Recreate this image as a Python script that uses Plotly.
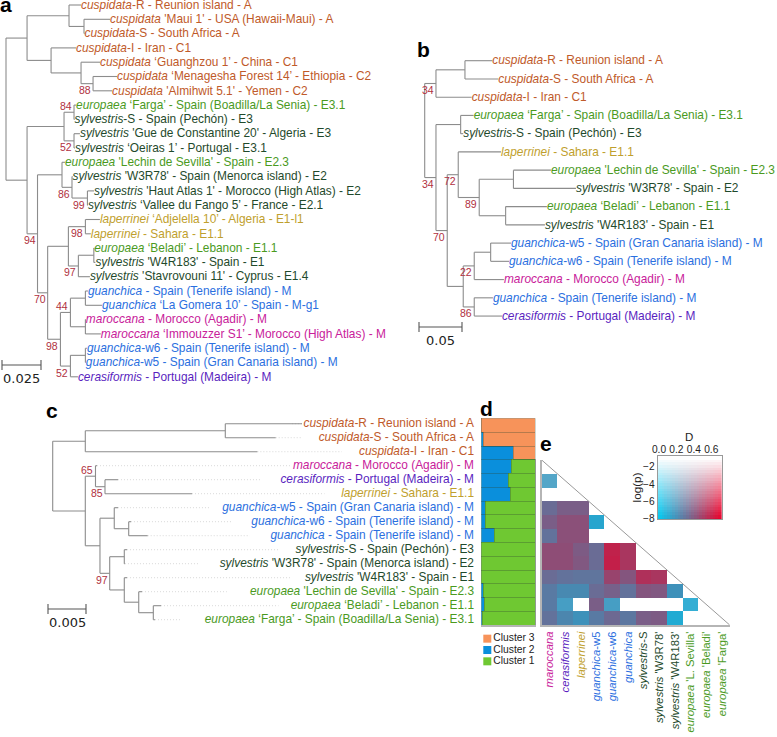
#!/usr/bin/python3
"""
File:       plot.py
Desc:       Olive plastid trees (a, b, c), cluster bars (d) and D / log(p) triangle (e)
"""

import re

import numpy as np
import plotly.graph_objects as go

W, H = 777, 737
FONT = "Liberation Sans"

# Trees, branch lengths. "^" puts the support value above the node
tree_a = """((((cR:.0077,(cMaui:.0167,cS:.0003):.0096):.0269,(cI:.0160,(cGuang:.0122,
(cMena:.0154,cAlmi:.0122)88:.0077):.0192):.0154):.0135),
((((eFarga:.0013,sS:.0003)84^:.0064,(sGue:.0038,sOei:.0006)52:.0064):.0237,
((eLech:.0019,(sW3m:.0003,(sHaut:.0042,sVall:.0003)99:.0099)86:.0064):.0157,
(((lAdj:.0093,lSah:.0035)98:.0109,((eBel:.0002,sW4:.0010):.0099,sStav:.0074)97:.0064):.0133,
(((gT:.0016,gGom:.0106):.0096,(mA:.0003,mImm:.0099):.0096)44^:.0064,
((gW6:.0010,gW5:.0003):.0096,cer:.0048)52:.0064)98:.0082)70:.0065)94:.0067):.0135));"""

tree_b = """(((cR:.0318,cS:.0387):.0337,cI:.0415)34:.0131,
((eFarga:.0151,sS:.0030):.0287,
((lSah:.0497,((eLech:.0436,sW3:.0727):.0398,(eBel:.0480,sW4:.0457):.0307)89:.0244)72:.0128,
(((gW5:.0236,gW6:.0213):.0191,mA:.0345)22:.0128,(gT:.0217,cer:.0322)86:.0128):.0186)70:.0131)34:.0131);"""

tree_c = """(((cR:.01009,cS:.00663):.01842,cI:.02264):.00429,
((mA:.0002,(cer:.00171,lSah:.01145)85:.00125)65^:.00134,
((gW5:.00049,(gW6:.0003,gT:.0025):.0019):.00188,
((sS:.00036,sW3m:.00009):.00192,
(sW4:.00036,(eLech:.00043,(eBel:.00101,eFarga:.00022):.00192):.0019):.00192)97:.00128):.00193):.00429);"""

# Leaf names: species, then the plain part
leaves = {
    "cR": ("cuspidata", "-R - Reunion island - A"),
    "cMaui": ("cuspidata", " 'Maui 1' - USA (Hawaii-Maui) - A"),
    "cS": ("cuspidata", "-S - South Africa - A"),
    "cI": ("cuspidata", "-I - Iran - C1"),
    "cGuang": ("cuspidata", " ‘Guanghzou 1’ - China - C1"),
    "cMena": ("cuspidata", " ‘Menagesha Forest 14’ - Ethiopia - C2"),
    "cAlmi": ("cuspidata", " 'Almihwit 5.1' - Yemen - C2"),
    "eFarga": ("europaea", " ‘Farga’ - Spain (Boadilla/La Senia) - E3.1"),
    "sS": ("sylvestris", "-S - Spain (Pechón) - E3"),
    "sGue": ("sylvestris", " 'Gue de Constantine 20' - Algeria - E3"),
    "sOei": ("sylvestris", " ‘Oeiras 1’ - Portugal - E3.1"),
    "eLech": ("europaea", " 'Lechin de Sevilla' - Spain - E2.3"),
    "sW3m": ("sylvestris", " 'W3R78' - Spain (Menorca island) - E2"),
    "sW3": ("sylvestris", " 'W3R78' - Spain - E2"),
    "sHaut": ("sylvestris", " 'Haut Atlas 1' - Morocco (High Atlas) - E2"),
    "sVall": ("sylvestris", " ‘Vallee du Fango 5’ - France - E2.1"),
    "lAdj": ("laperrinei", " ‘Adjelella 10’ - Algeria - E1-l1"),
    "lSah": ("laperrinei", " - Sahara - E1.1"),
    "eBel": ("europaea", " ‘Beladi’ - Lebanon - E1.1"),
    "sW4": ("sylvestris", " 'W4R183' - Spain - E1"),
    "sStav": ("sylvestris", " 'Stavrovouni 11' - Cyprus - E1.4"),
    "gT": ("guanchica", " - Spain (Tenerife island) - M"),
    "gGom": ("guanchica", " ‘La Gomera 10’ - Spain - M-g1"),
    "mA": ("maroccana", " - Morocco (Agadir) - M"),
    "mImm": ("maroccana", " ‘Immouzzer S1’ - Morocco (High Atlas) - M"),
    "gW6": ("guanchica", "-w6 - Spain (Tenerife island) - M"),
    "gW5": ("guanchica", "-w5 - Spain (Gran Canaria island) - M"),
    "cer": ("cerasiformis", " - Portugal (Madeira) - M"),
}

colors = {"cuspidata": "#c05a2a", "europaea": "#4a9a1e", "sylvestris": "#1f4a2c",
          "laperrinei": "#bf9f2e", "guanchica": "#2b6fe0", "maroccana": "#c8209a",
          "cerasiformis": "#5a1fc0"}

# Panel d, percent of each sample in the three clusters, same order as tree c
cluster_2 = [0, 3, 58, 56, 49, 53, 7, 8, 23, 0, 0, 0, 3, 6, 1]
cluster_1 = [0, 0, 0, 44, 51, 47, 93, 92, 77, 100, 100, 100, 97, 94, 99]
cluster_3 = [100, 97, 42, 0, 0, 0, 0, 0, 0, 0, 0, 0, 0, 0, 0]
cluster_names = ["Cluster 3", "Cluster 2", "Cluster 1"]
cluster_colors = ["#f7935a", "#0a8fdc", "#6fc832"]

# Panel e, D and log(p) under the diagonal, None = not significant
pair_names = [("maroccana", ""), ("cerasiformis", ""), ("laperrinei", ""), ("guanchica", "-w5"),
              ("guanchica", "-w6"), ("guanchica", ""), ("sylvestris", "-S"), ("sylvestris", " 'W3R78'"),
              ("sylvestris", " 'W4R183'"), ("europaea", " 'L. Sevilla'"), ("europaea", " 'Beladi'"),
              ("europaea", " 'Farga'")]
N = None
pair_d = [
    [N, N, N, N, N, N, N, N, N, N, N, N],
    [.17, N, N, N, N, N, N, N, N, N, N, N],
    [N, N, N, N, N, N, N, N, N, N, N, N],
    [.32, .37, .37, N, N, N, N, N, N, N, N, N],
    [.37, .42, .42, .12, N, N, N, N, N, N, N, N],
    [.30, .42, .42, N, N, N, N, N, N, N, N, N],
    [.43, .43, .38, .32, .58, .51, N, N, N, N, N, N],
    [.43, .43, .39, .32, .59, .51, N, N, N, N, N, N],
    [.32, .30, .29, .29, .46, .40, .53, .51, N, N, N, N],
    [.27, .22, .22, .32, .36, .30, .40, .39, .19, N, N, N],
    [.27, .17, N, .37, .17, N, N, N, N, .11, N, N],
    [.30, .23, .19, .27, .33, .28, .37, .38, .10, N, N, N],
]
pair_logp = [
    [N, N, N, N, N, N, N, N, N, N, N, N],
    [-7, N, N, N, N, N, N, N, N, N, N, N],
    [N, N, N, N, N, N, N, N, N, N, N, N],
    [-8, -8, -8, N, N, N, N, N, N, N, N, N],
    [-8, -8, -8, -8, N, N, N, N, N, N, N, N],
    [-8, -8, -8, N, N, N, N, N, N, N, N, N],
    [-8, -8, -8, -8, -8, -8, N, N, N, N, N, N],
    [-8, -8, -8, -8, -8, -8, N, N, N, N, N, N],
    [-8, -8, -8, -8, -8, -8, -8, -8, N, N, N, N],
    [-8, -8, -8, -8, -8, -8, -8, -8, -8, N, N, N],
    [-8, -7.5, N, -8, -7.5, N, N, N, N, -7.5, N, N],
    [-8, -8, -8, -8, -8, -8, -8, -8, -8, N, N, N],
]
key_d_ticks = [0, .2, .4, .6]
key_logp_ticks = [-2, -4, -6, -8]


def parse_newick(text):
    tokens = re.findall(r"[(),;]|[^(),;]+", re.sub(r"\s", "", text))
    pos = 0

    def node():
        nonlocal pos
        n = {"children": [], "name": "", "length": 0.0}
        if tokens[pos] == "(":
            pos += 1
            while True:
                n["children"].append(node())
                pos += 1
                if tokens[pos - 1] == ")":
                    break
        if tokens[pos] not in "(),;":
            name, _, length = tokens[pos].partition(":")
            n["name"], n["length"] = name, float(length or 0)
            pos += 1
        return n

    return node()


def layout_tree(root):
    rows = []

    def walk(n, x):
        n["x"] = x + n["length"]
        for c in n["children"]:
            walk(c, n["x"])
        if n["children"]:
            n["y"] = (n["children"][0]["y"] + n["children"][-1]["y"]) / 2
        else:
            n["y"] = len(rows)
            rows.append(n)

    walk(root, 0.0)
    return rows


def segments(n, xs, ys, inner):
    if n["children"]:
        inner.append(n)
        xs += [n["x"], n["x"], None]
        ys += [n["children"][0]["y"], n["children"][-1]["y"], None]
        for c in n["children"]:
            xs += [n["x"], c["x"], None]
            ys += [c["y"], c["y"], None]
            segments(c, xs, ys, inner)


def leaf_text(key):
    species, rest = leaves[key]
    return "<i>%s</i>%s" % (species, rest)


def add_axes(idx, px_x, px_y, xrange, yrange, xopts=None, yopts=None):
    # one pair of axes over a pixel box of the page
    hidden = dict(visible=False, showgrid=False, zeroline=False, fixedrange=True, automargin=False)
    xa = dict(hidden, domain=[px_x[0] / W, px_x[1] / W], range=xrange, anchor="y%d" % idx)
    ya = dict(hidden, domain=[1 - px_y[1] / H, 1 - px_y[0] / H], range=yrange, anchor="x%d" % idx)
    xa.update(xopts or {})
    ya.update(yopts or {})
    fig.update_layout({"xaxis%d" % idx: xa, "yaxis%d" % idx: ya})
    return "x%d" % idx, "y%d" % idx


def page_text(text, px, py, size, color="#000000", angle=0):
    fig.add_annotation(x=px / W, y=1 - py / H, xref="paper", yref="paper", text=text, showarrow=False,
                       xanchor="center", yanchor="middle", textangle=angle,
                       font=dict(family=FONT, size=size, color=color))


def draw_tree(newick, idx, unit, root_px, row0, row_step, px_box, scale, scale_px, text_x=None):
    root = parse_newick(newick)
    rows = layout_tree(root)
    to_x = lambda px: (px - root_px) * unit
    to_row = lambda py: (py - row0) / row_step
    xa, ya = add_axes(idx, px_box[:2], px_box[2:], [to_x(px_box[0]), to_x(px_box[1])],
                      [to_row(px_box[3]), to_row(px_box[2])])

    xs, ys, inner = [], [], []
    segments(root, xs, ys, inner)

    tips_x = [n["x"] for n in rows]
    tips_y = [n["y"] for n in rows]
    texts = [leaf_text(n["name"]) for n in rows]
    text_colors = [colors[leaves[n["name"]][0]] for n in rows]

    if text_x is not None:
        # tree c has its names flushed right, dotted leaders run up to them
        lx, ly = [], []
        for n, t in zip(rows, texts):
            chars = len(re.sub(r"<.*?>", "", t))
            lx += [n["x"], to_x(text_x - chars * 5.75), None]
            ly += [n["y"], n["y"], None]
        fig.add_trace(go.Scatter(x=lx, y=ly, mode="lines", xaxis=xa, yaxis=ya, hoverinfo="skip",
                                 line=dict(color="#cfcfcf", width=.8, dash="1px,2px")))

    fig.add_trace(go.Scatter(x=xs, y=ys, mode="lines", xaxis=xa, yaxis=ya, hoverinfo="skip",
                             line=dict(color="#8c8c8c", width=1.1)))

    # text sits a little low on its row in the original
    label_x = tips_x if text_x is None else [to_x(text_x)] * len(rows)
    label_y = [y + .8 / row_step for y in tips_y]
    fig.add_trace(go.Scatter(x=label_x, y=label_y, mode="text", text=texts, xaxis=xa, yaxis=ya,
                             textposition="middle right" if text_x is None else "middle left",
                             textfont=dict(family=FONT, size=11.9, color=text_colors),
                             cliponaxis=False, hoverinfo="skip"))

    for n in inner:
        if n["name"]:
            above = n["name"].endswith("^")
            fig.add_annotation(x=n["x"], y=n["y"], xref=xa, yref=ya, text=n["name"].rstrip("^"),
                               showarrow=False, xanchor="right", yanchor="middle", borderpad=0,
                               xshift=-1, yshift=6.5 if above else -6.5,
                               font=dict(family=FONT, size=10.5, color="#b03040"))

    # scale bar
    bar_x = [to_x(scale_px[0]), to_x(scale_px[0]) + scale]
    bar_y = [to_row(scale_px[1])] * 2
    fig.add_trace(go.Scatter(x=bar_x, y=bar_y, mode="lines+markers", xaxis=xa, yaxis=ya, hoverinfo="skip",
                             line=dict(color="#555555", width=1.1), cliponaxis=False,
                             marker=dict(symbol="line-ns", size=7, line=dict(color="#555555", width=1.1))))
    fig.add_annotation(x=sum(bar_x) / 2, y=bar_y[0], xref=xa, yref=ya, text=str(scale), showarrow=False,
                       yshift=-13, font=dict(family="DejaVu Sans", size=13, color="#222222"))


def key_color(d, logp):
    # white at log(p) = -1, cyan to red along D at log(p) = -8
    t = min(max((-1 - logp) / 7, 0), 1)
    m = min(max(d / .7, 0), 1)
    cold, hot = np.array([0, 200, 240]), np.array([232, 0, 42])
    rgb = 255 * (1 - t) + (cold * (1 - m) + hot * m) * t
    return "rgb(%d,%d,%d)" % tuple(rgb)


def indexed_heatmap(x, y, d_rows, logp_rows, xa, ya):
    # Heatmap has one z, so each cell gets its own stop of a colorscale
    swatches, z = [], []
    for d_row, p_row in zip(d_rows, logp_rows):
        z.append([])
        for d, p in zip(d_row, p_row):
            if d is None:
                z[-1].append(None)
            else:
                z[-1].append(len(swatches))
                swatches.append(key_color(d, p))
    last = len(swatches) - 1
    scale = [[i / last, c] for i, c in enumerate(swatches)]
    return go.Heatmap(x=x, y=y, z=z, colorscale=scale, zmin=0, zmax=last, showscale=False,
                      xaxis=xa, yaxis=ya, hoverinfo="skip")


fig = go.Figure()

draw_tree(tree_a, 1, .025 / 39, 6, 5, 14.3, (0, 420, 0, 400), .025, (2, 365))
draw_tree(tree_b, 2, .05 / 43, 424.7, 60.7, 18.24, (410, 777, 40, 345), .05, (419, 327))
draw_tree(tree_c, 3, .005 / 38, 52.7, 423.7, 14.0, (30, 480, 415, 630), .005, (48, 609), text_x=474)

# d, cluster bars
xa, ya = add_axes(4, (481.3, 535.7), (418.3, 625), [0, 100], [14.5, -.5],
                  xopts=dict(visible=True, showline=True, linecolor="#b5b5b5", linewidth=2,
                             showticklabels=False, ticks=""))
rows_d = list(range(len(cluster_1)))
for name, vals, col in zip(["Cluster 2", "Cluster 1", "Cluster 3"], [cluster_2, cluster_1, cluster_3],
                           [cluster_colors[1], cluster_colors[2], cluster_colors[0]]):
    fig.add_trace(go.Bar(x=vals, y=rows_d, name=name, orientation="h", xaxis=xa, yaxis=ya, width=1,
                         marker=dict(color=col, line=dict(color="rgba(50,70,50,.65)", width=.5)),
                         hoverinfo="skip"))

# d, key
xa, ya = add_axes(5, (483, 545), (633, 667), [0, 62], [2.5, -.5])
fig.add_trace(go.Scatter(x=[4.3] * 3, y=[0, 1, 2], mode="markers+text", text=cluster_names,
                         textposition="middle right", xaxis=xa, yaxis=ya, cliponaxis=False,
                         marker=dict(symbol="square", size=8, color=cluster_colors),
                         textfont=dict(family=FONT, size=10.3, color="#222222"), hoverinfo="skip"))

# e, triangle
ticks_e = ['<span style="color:%s"><i>%s</i>%s</span>' % (colors[s], s, r) for s, r in pair_names]
grid = list(range(12))
xa, ya = add_axes(6, (541.7, 729.7), (460, 625), [-.5, 11.5], [11.5, -.5],
                  xopts=dict(visible=True, showline=True, linecolor="#b5b5b5", linewidth=2, ticks="",
                             tickmode="array", tickvals=grid, ticktext=ticks_e, tickangle=-90,
                             tickfont=dict(family=FONT, size=11.3)),
                  yopts=dict(visible=True, showline=True, linecolor="#b5b5b5", linewidth=2, ticks="",
                             showticklabels=False))
fig.add_trace(indexed_heatmap(grid, grid, pair_d, pair_logp, xa, ya))
fig.add_trace(go.Scatter(x=[-.5, 11.5], y=[-.5, 11.5], mode="lines", xaxis=xa, yaxis=ya, hoverinfo="skip",
                         line=dict(color="#999999", width=1)))

# e, colour key
key_d = np.linspace(-.015, .72, 25)
key_p = np.linspace(-.7, -8.07, 25)
key_rows_d = [list(key_d) for _ in key_p]
key_rows_p = [[p] * len(key_d) for p in key_p]
xa, ya = add_axes(7, (657.7, 721.7), (455.7, 519.3), [-.015, .72], [-8.07, -.7],
                  xopts=dict(visible=True, side="top", showline=True, mirror=True, linecolor="#999999",
                             ticks="", tickmode="array", tickvals=key_d_ticks, ticklabelstandoff=-2,
                             ticktext=["%.1f" % v for v in key_d_ticks],
                             tickfont=dict(family=FONT, size=10.2, color="#222222")),
                  yopts=dict(visible=True, showline=True, mirror=True, linecolor="#999999", ticks="",
                             tickmode="array", tickvals=key_logp_ticks,
                             tickfont=dict(family=FONT, size=10.2, color="#222222")))
fig.add_trace(indexed_heatmap(list(key_d), list(key_p), key_rows_d, key_rows_p, xa, ya))
page_text("D", 689, 437, 11.5, "#222222")
page_text("log(p)", 636.7, 487.7, 11.7, "#222222", angle=-90)

# panel letters
for letter, px, py in [("a", 5.5, 5), ("b", 424, 49), ("c", 52, 410), ("d", 486, 408), ("e", 546, 443)]:
    page_text("<b>%s</b>" % letter, px, py, 21)

fig.update_layout(width=W, height=H, margin=dict(l=0, r=0, t=0, b=0), barmode="stack", bargap=0,
                  showlegend=False, plot_bgcolor="white", paper_bgcolor="white")

fig.write_html("out.html", config={"displayModeBar": False},
               post_script="document.body.style.margin='0';")
